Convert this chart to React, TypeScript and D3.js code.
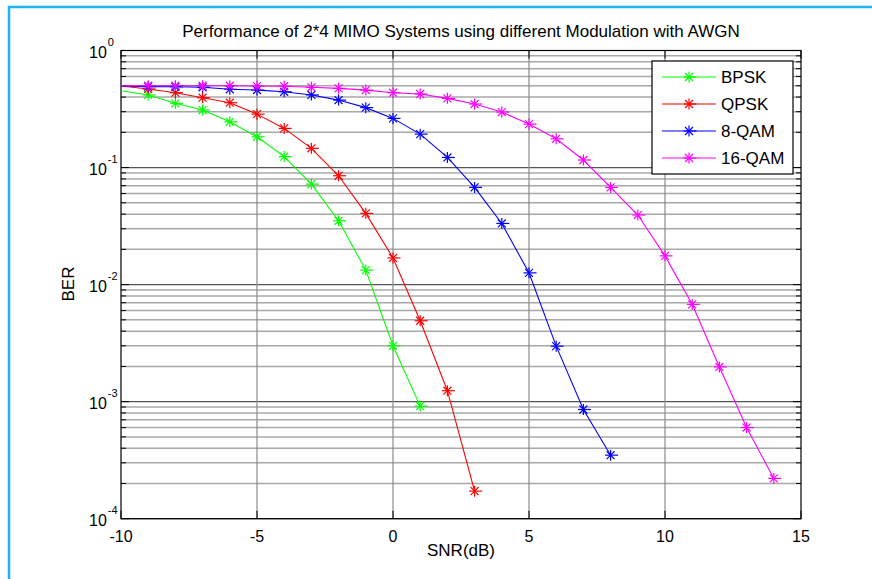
import React from 'react';
import * as d3 from 'd3';

const TITLE = 'Performance of 2*4 MIMO Systems using different Modulation with AWGN';
const SERIES_NAMES = ['BPSK', 'QPSK', '8-QAM', '16-QAM'];
const SERIES_COLORS = ['#00ff00', '#ff0000', '#0000ff', '#ff00ff'];

const SNR_START = -10;
const BER_BPSK = [0.453, 0.417, 0.354, 0.31, 0.246, 0.183, 0.124, 0.0722, 0.0351, 0.0133, 0.003, 0.000916];
const BER_QPSK = [0.497, 0.469, 0.436, 0.395, 0.358, 0.286, 0.216, 0.146, 0.0851, 0.0406, 0.0169, 0.00491, 0.00124, 0.000172];
const BER_8QAM = [0.497, 0.491, 0.49, 0.485, 0.466, 0.459, 0.444, 0.417, 0.377, 0.325, 0.263, 0.193, 0.122, 0.0677, 0.0333, 0.0126, 0.00298, 0.000857, 0.000349];
const BER_16QAM = [0.5, 0.5, 0.5, 0.5, 0.5, 0.497, 0.495, 0.485, 0.475, 0.459, 0.436, 0.425, 0.39, 0.349, 0.298, 0.235, 0.176, 0.116, 0.0677, 0.0393, 0.0176, 0.00678, 0.00198, 0.000601, 0.000221];

const X_TICKS = [-10, -5, 0, 5, 10, 15];
const Y_EXPONENTS = [0, -1, -2, -3, -4];

const FONT = '"Liberation Sans", Arial, sans-serif';

function Asterisk({ cx, cy, color }: { cx: number; cy: number; color: string }) {
  const r = 5.5;
  const d = r * 0.72;
  return (
    <g stroke={color} strokeWidth={1.2}>
      <line x1={cx - r} y1={cy} x2={cx + r + 2} y2={cy} />
      <line x1={cx} y1={cy - r} x2={cx} y2={cy + r} />
      <line x1={cx - d} y1={cy - d} x2={cx + d} y2={cy + d} />
      <line x1={cx - d} y1={cy + d} x2={cx + d} y2={cy - d} />
    </g>
  );
}

export default function App() {
  const width = 872;
  const height = 579;
  const x = d3.scaleLinear().domain([-10, 15]).range([121, 801]);
  const y = d3.scaleLog().domain([1e-4, 1]).range([518.7, 50.5]);

  const series = [BER_BPSK, BER_QPSK, BER_8QAM, BER_16QAM].map((vals) =>
    vals.map((v, i) => ({ snr: SNR_START + i, ber: v }))
  );

  const line = d3
    .line<{ snr: number; ber: number }>()
    .x((d) => x(d.snr))
    .y((d) => y(d.ber));

  // minor grid values 2..9 x 10^k
  const minor: number[] = [];
  for (let k = -4; k < 0; k++) {
    for (let m = 2; m <= 9; m++) minor.push(m * Math.pow(10, k));
  }

  const [x0, x1] = x.range();
  const [yb, yt] = y.range();

  return (
    <svg
      width={width}
      height={height}
      style={{ position: 'absolute', left: 0, top: 0, background: '#fff' }}
      fontFamily={FONT}
    >
      {/* frame: only left and top edges are visible */}
      <path d={`M9,${height} L9,7 L${width},7`} fill="none" stroke="#1eb4ec" strokeWidth={2.5} />

      <defs>
        <clipPath id="plot">
          <rect x={x0} y={yt} width={x1 - x0} height={yb - yt} />
        </clipPath>
      </defs>

      {/* grid */}
      {minor.map((v) => (
        <line key={'m' + v} x1={x0} x2={x1} y1={y(v)} y2={y(v)} stroke="#a8a8a8" strokeWidth={1.5} />
      ))}
      {Y_EXPONENTS.map((e) => (
        <line key={'M' + e} x1={x0} x2={x1} y1={y(Math.pow(10, e))} y2={y(Math.pow(10, e))} stroke="#555" strokeWidth={1.2} />
      ))}
      {X_TICKS.slice(1, -1).map((t) => (
        <line key={'v' + t} x1={x(t)} x2={x(t)} y1={yt} y2={yb} stroke="#8a8a8a" strokeWidth={1.2} />
      ))}

      {/* ticks */}
      {minor.map((v) => (
        <g key={'mt' + v} stroke="#000">
          <line x1={x0} x2={x0 + 5} y1={y(v)} y2={y(v)} />
          <line x1={x1} x2={x1 - 5} y1={y(v)} y2={y(v)} />
        </g>
      ))}
      {Y_EXPONENTS.map((e) => (
        <g key={'Mt' + e} stroke="#000">
          <line x1={x0} x2={x0 + 8} y1={y(Math.pow(10, e))} y2={y(Math.pow(10, e))} />
          <line x1={x1} x2={x1 - 8} y1={y(Math.pow(10, e))} y2={y(Math.pow(10, e))} />
        </g>
      ))}
      {X_TICKS.map((t) => (
        <g key={'xt' + t} stroke="#000">
          <line x1={x(t)} x2={x(t)} y1={yb} y2={yb - 8} />
          <line x1={x(t)} x2={x(t)} y1={yt} y2={yt + 8} />
        </g>
      ))}

      {/* axes box */}
      <rect x={x0} y={yt} width={x1 - x0} height={yb - yt} fill="none" stroke="#000" strokeWidth={1.2} />

      {/* series */}
      <g clipPath="url(#plot)">
        {series.map((s, i) => (
          <path key={'l' + i} d={line(s) || ''} fill="none" stroke={SERIES_COLORS[i]} strokeWidth={1.1} />
        ))}
      </g>
      {series.map((s, i) => (
        <g key={'p' + i}>
          {s.slice(1).map((d) => (
            <Asterisk key={d.snr} cx={x(d.snr)} cy={y(d.ber)} color={SERIES_COLORS[i]} />
          ))}
        </g>
      ))}

      {/* tick labels */}
      {X_TICKS.map((t) => (
        <text key={'xl' + t} x={x(t)} y={541.5} fontSize={16} textAnchor="middle">
          {t}
        </text>
      ))}
      {Y_EXPONENTS.map((e) => (
        <text key={'yl' + e} x={89} y={y(Math.pow(10, e)) + 7} fontSize={16}>
          10
          <tspan fontSize={11} dx={1} dy={-12}>
            {e}
          </tspan>
        </text>
      ))}

      {/* labels */}
      <text x={461} y={36.5} fontSize={17} textAnchor="middle">
        {TITLE}
      </text>
      <text x={461} y={556} fontSize={17} textAnchor="middle">
        SNR(dB)
      </text>
      <text transform="translate(74,284) rotate(-90)" fontSize={17} textAnchor="middle">
        BER
      </text>

      {/* legend */}
      <rect x={652} y={61} width={141} height={113} fill="#fff" stroke="#000" strokeWidth={1.2} />
      {SERIES_NAMES.map((name, i) => {
        const ly = 77 + i * 27;
        return (
          <g key={'lg' + name}>
            <line x1={662} x2={716} y1={ly} y2={ly} stroke={SERIES_COLORS[i]} strokeWidth={1.1} />
            <Asterisk cx={689} cy={ly} color={SERIES_COLORS[i]} />
            <text x={721} y={ly + 6} fontSize={17}>
              {name}
            </text>
          </g>
        );
      })}
    </svg>
  );
}
